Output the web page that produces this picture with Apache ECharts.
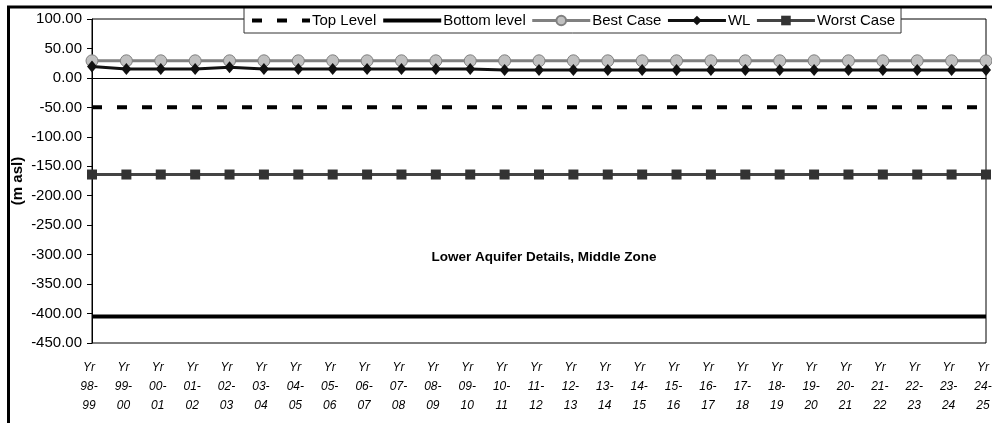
<!DOCTYPE html>
<html>
<head>
<meta charset="utf-8">
<script src="https://cdn.jsdelivr.net/npm/echarts@6/dist/echarts.min.js"></script>
<style>
html,body{margin:0;padding:0;background:#fff;}
#chart{width:992px;height:423px;}
</style>
</head>
<body>
<div id="chart"></div>
<script>
const categories = ['98-99','99-00','00-01','01-02','02-03','03-04','04-05','05-06','06-07','07-08','08-09','09-10','10-11','11-12','12-13','13-14','14-15','15-16','16-17','17-18','18-19','19-20','20-21','21-22','22-23','23-24','24-25'];
const topLevel =    [-50,-50,-50,-50,-50,-50,-50,-50,-50,-50,-50,-50,-50,-50,-50,-50,-50,-50,-50,-50,-50,-50,-50,-50,-50,-50,-50];
const bottomLevel = [-405,-405,-405,-405,-405,-405,-405,-405,-405,-405,-405,-405,-405,-405,-405,-405,-405,-405,-405,-405,-405,-405,-405,-405,-405,-405,-405];
const bestCase =    [29,29,29,29,29,29,29,29,29,29,29,29,29,29,29,29,29,29,29,29,29,29,29,29,29,29,29];
const wl =          [19.5,15,15,15,18,15,15,15,15,15,15,15,13.5,13.5,13.5,13.5,13.5,13.5,13.5,13.5,13.5,13.5,13.5,13.5,13.5,13.5,13.5];
const worstCase =   [-164,-164,-164,-164,-164,-164,-164,-164,-164,-164,-164,-164,-164,-164,-164,-164,-164,-164,-164,-164,-164,-164,-164,-164,-164,-164,-164];
const yTicks = {min:-450, max:100, interval:50};

const chart = echarts.init(document.getElementById('chart'), null, {renderer:'canvas'});
const font = 'Arial, "Liberation Sans", sans-serif';
chart.setOption({
  animation:false,
  backgroundColor:'#fff',
  textStyle:{fontFamily:font},
  grid:{left:92, right:6, top:19, bottom:80, show:true, borderColor:'#000', borderWidth:1, backgroundColor:'transparent', containLabel:false, outerBoundsMode:'none'},
  legend:{
    left:244, top:7, orient:'horizontal',
    padding:[6,6,5,6], itemGap:5, itemWidth:58, itemHeight:12,
    borderColor:'#333', borderWidth:1, backgroundColor:'#fff',
    textStyle:{fontFamily:font, fontSize:15, color:'#000', padding:[0,0,0,-3]},
    data:[
      {name:'Top Level', itemStyle:{opacity:0}, lineStyle:{width:4}},
      {name:'Bottom level', itemStyle:{opacity:0}, lineStyle:{width:4}},
      {name:'Best Case', lineStyle:{width:3}},
      {name:'WL', lineStyle:{width:3}},
      {name:'Worst Case', lineStyle:{width:3}}]
  },
  xAxis:{
    type:'category', data:categories, boundaryGap:false,
    axisLine:{show:true, lineStyle:{color:'#000', width:1}},
    axisTick:{show:false},
    axisLabel:{interval:0, margin:15, fontFamily:font, fontSize:12, fontStyle:'italic', color:'#000', lineHeight:19, padding:[0,6,0,0],
      formatter:function(v){ const p=v.split('-'); return 'Yr\n'+p[0]+'-\n'+p[1]; }},
    splitLine:{show:false}
  },
  yAxis:{
    type:'value', min:yTicks.min, max:yTicks.max, interval:yTicks.interval,
    name:'(m asl)', nameLocation:'middle', nameGap:67, nameRotate:90, nameMoveOverlap:false,
    nameTextStyle:{fontFamily:font, fontSize:15, fontWeight:'bold', color:'#000'},
    axisLine:{show:true, lineStyle:{color:'#000', width:1}},
    axisTick:{show:true, inside:false, length:5, lineStyle:{color:'#000'}},
    axisLabel:{fontFamily:font, fontSize:15, color:'#000', margin:10, formatter:function(v){return v.toFixed(2);}},
    splitLine:{show:false}
  },
  graphic:[
    {type:'rect', shape:{x:8.5, y:7, width:1200, height:600}, style:{fill:'none', stroke:'#000', lineWidth:3}, silent:true, z:100},
    {type:'text', style:{text:'Lower Aquifer Details, Middle Zone', x:544, y:257, align:'center', verticalAlign:'middle', font:'bold 13.5px Arial, "Liberation Sans", sans-serif', fill:'#000'}, silent:true}
  ],
  series:[
    {name:'Top Level', type:'line', data:topLevel, symbol:'none', lineStyle:{color:'#000', width:4, type:[10,15]}, itemStyle:{color:'#000'}, z:2},
    {name:'Bottom level', type:'line', data:bottomLevel, symbol:'none', lineStyle:{color:'#000', width:4}, itemStyle:{color:'#000'}, z:2},
    {name:'Best Case', type:'line', data:bestCase, symbol:'circle', symbolSize:12, showAllSymbol:true,
      lineStyle:{color:'#808080', width:3}, itemStyle:{color:'#c0c0c0', borderColor:'#808080', borderWidth:1}, z:3},
    {name:'WL', type:'line', data:wl, symbol:'diamond', symbolSize:[10,12], showAllSymbol:true,
      lineStyle:{color:'#111', width:3}, itemStyle:{color:'#111'}, z:4},
    {name:'Worst Case', type:'line', data:worstCase, symbol:'rect', symbolSize:10, showAllSymbol:true,
      lineStyle:{color:'#444', width:3}, itemStyle:{color:'#333'}, z:3}
  ]
});
</script>
</body>
</html>
